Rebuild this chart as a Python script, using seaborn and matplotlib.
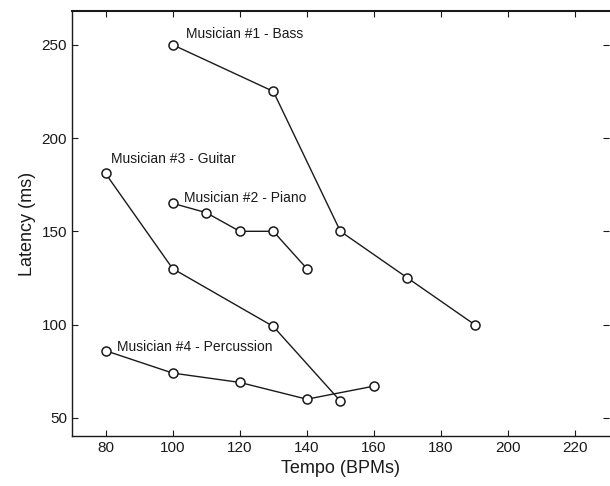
import matplotlib
matplotlib.use("Agg")
import matplotlib.pyplot as plt
import seaborn as sns
import pandas as pd

sns.set_theme(style="ticks")
plt.rcParams['font.family'] = ['Liberation Sans', 'DejaVu Sans']

bass_x = [100, 130, 150, 170, 190]
bass_y = [250, 225, 150, 125, 100]
piano_x = [100, 110, 120, 130, 140]
piano_y = [165, 160, 150, 150, 130]
guitar_x = [80, 100, 130, 150]
guitar_y = [181, 130, 99, 59]
perc_x = [80, 100, 120, 140, 160]
perc_y = [86, 74, 69, 60, 67]

series = [
    ("Musician #1 - Bass", bass_x, bass_y, (104, 256)),
    ("Musician #2 - Piano", piano_x, piano_y, (103.5, 168)),
    ("Musician #3 - Guitar", guitar_x, guitar_y, (81.5, 189)),
    ("Musician #4 - Percussion", perc_x, perc_y, (83.5, 88)),
]

rows = []
for name, xs, ys, _ in series:
    for x, y in zip(xs, ys):
        rows.append({"musician": name, "tempo": x, "latency": y})
df = pd.DataFrame(rows)

fig = plt.figure(figsize=(6.10, 4.86), dpi=100)
ax = fig.add_axes([0.118, 0.103, 0.88, 0.874])

for name, xs, ys, pos in series:
    sub = df[df["musician"] == name]
    sns.lineplot(data=sub, x="tempo", y="latency", ax=ax, color="#1a1a1a",
                 linewidth=1.0, marker="o", markersize=6.5,
                 markerfacecolor="white", markeredgecolor="#1a1a1a",
                 markeredgewidth=1.1, sort=False, estimator=None, legend=False)
    ax.text(pos[0], pos[1], name, fontsize=10, color="#1a1a1a",
            ha="left", va="center")

ax.set_xlim(70, 230)
ax.set_ylim(40.3, 268)
ax.set_xticks([80, 100, 120, 140, 160, 180, 200, 220])
ax.set_yticks([50, 100, 150, 200, 250])
ax.set_xlabel("Tempo (BPMs)", fontsize=13, color="#1a1a1a")
ax.set_ylabel("Latency (ms)", fontsize=13, color="#1a1a1a")
ax.tick_params(axis="both", labelsize=11, colors="#1a1a1a")
ax.tick_params(axis="x", direction="in", top=True, length=4, width=0.8)
ax.tick_params(axis="y", direction="in", right=True, left=True, length=4, width=0.8)
for s in ["left", "bottom", "top"]:
    ax.spines[s].set_color("#1a1a1a")
    ax.spines[s].set_linewidth(1.0)
ax.spines["top"].set_linewidth(1.5)
ax.spines["right"].set_visible(False)

fig.savefig("out.png", dpi=100)
